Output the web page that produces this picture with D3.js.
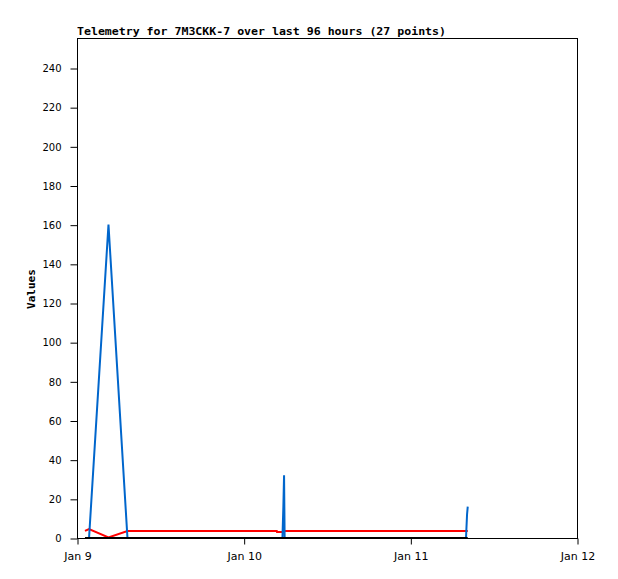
<!DOCTYPE html>
<html>
<head>
<meta charset="utf-8">
<script src="https://cdn.jsdelivr.net/npm/d3@7"></script>
<style>
  html, body { margin: 0; padding: 0; background: #fff; }
  svg { display: block; }
</style>
</head>
<body>
<svg id="chart" width="618" height="579"></svg>
<script>
// ---- data ----
const titleText = "Telemetry for 7M3CKK-7 over last 96 hours (27 points)";
const yLabel = "Values";
const times = [
  "2024-01-09T01:09", "2024-01-09T01:44", "2024-01-09T04:32", "2024-01-09T07:16",
  "2024-01-10T04:46", "2024-01-10T04:48", "2024-01-10T05:35", "2024-01-10T05:43",
  "2024-01-10T05:49", "2024-01-10T05:54",
  "2024-01-11T08:01", "2024-01-11T08:10", "2024-01-11T08:16"
];
const blueValues  = [0, 0, 160, 0, 0, 0, 0, 16, 32, 0, 0, 12, 16];
const redValues   = [3.6, 4.6, 0.3, 3.6, 3.6, 3.1, 3.1, 3.1, 3.6, 3.6, 3.6, 3.6, 3.6];
const blackValues = [0, 0, 0, 0, 0, 0, 0, 0, 0, 0, 0, 0, 0];
const yTicks = [0, 20, 40, 60, 80, 100, 120, 140, 160, 180, 200, 220, 240];
const xStart = "2024-01-09T00:00", xEnd = "2024-01-12T00:00";

(function () {
// ---- layout ----
const pLeft = 77, pRight = 577, pTop = 38, pBottom = 538;
const parse = d3.timeParse("%Y-%m-%dT%H:%M");
const dates = times.map(parse);

const x = d3.scaleTime().domain([parse(xStart), parse(xEnd)]).range([pLeft, pRight]);
const y = d3.scaleLinear().domain([0, 240 * (pBottom - pTop) / (pBottom - 68)]).range([pBottom, pTop]);

const svg = d3.select("#chart");
svg.append("rect").attr("width", 618).attr("height", 579).attr("fill", "#fff");

// frame
svg.append("rect")
  .attr("x", pLeft + 0.5).attr("y", pTop + 0.5)
  .attr("width", pRight - pLeft).attr("height", pBottom - pTop)
  .attr("fill", "none").attr("stroke", "#000").attr("stroke-width", 1);

// y axis
const yAxis = d3.axisLeft(y).tickValues(yTicks).tickSize(7).tickSizeOuter(0).tickPadding(9);
const gy = svg.append("g").attr("transform", `translate(${pLeft + 0.5},0.5)`).call(yAxis);
gy.select(".domain").remove();
gy.selectAll("text").attr("font-family", "DejaVu Sans").attr("font-size", 10).attr("fill", "#000");

// x axis
const xAxis = d3.axisBottom(x).ticks(d3.timeDay.every(1)).tickFormat(d3.timeFormat("%b %-d"))
  .tickSize(6).tickSizeOuter(0).tickPadding(8);
const gx = svg.append("g").attr("transform", `translate(0.5,${pBottom + 0.5})`).call(xAxis);
gx.select(".domain").remove();
gx.selectAll("text").attr("font-family", "DejaVu Sans").attr("font-size", 11).attr("fill", "#000");

// series
const line = vals => d3.line().x((d, i) => x(dates[i])).y(d => y(d))(vals);
svg.append("path").attr("d", line(redValues)).attr("fill", "none")
  .attr("stroke", "#ff0000").attr("stroke-width", 2).attr("stroke-linejoin", "miter");
svg.append("path").attr("d", line(blueValues)).attr("fill", "none")
  .attr("stroke", "#0066cc").attr("stroke-width", 2).attr("stroke-linejoin", "miter");
svg.append("path").attr("d", line(blackValues)).attr("fill", "none")
  .attr("stroke", "#000").attr("stroke-width", 2);

// title
svg.append("text").attr("x", pLeft).attr("y", 34.5)
  .attr("font-family", "DejaVu Sans Mono").attr("font-weight", "bold").attr("font-size", 11)
  .attr("textLength", 369).attr("lengthAdjust", "spacingAndGlyphs")
  .text(titleText);

// y label
svg.append("text")
  .attr("transform", "translate(35,289) rotate(-90)")
  .attr("text-anchor", "middle")
  .attr("font-family", "DejaVu Sans Mono").attr("font-weight", "bold").attr("font-size", 11)
  .text(yLabel);
})();
</script>
</body>
</html>
